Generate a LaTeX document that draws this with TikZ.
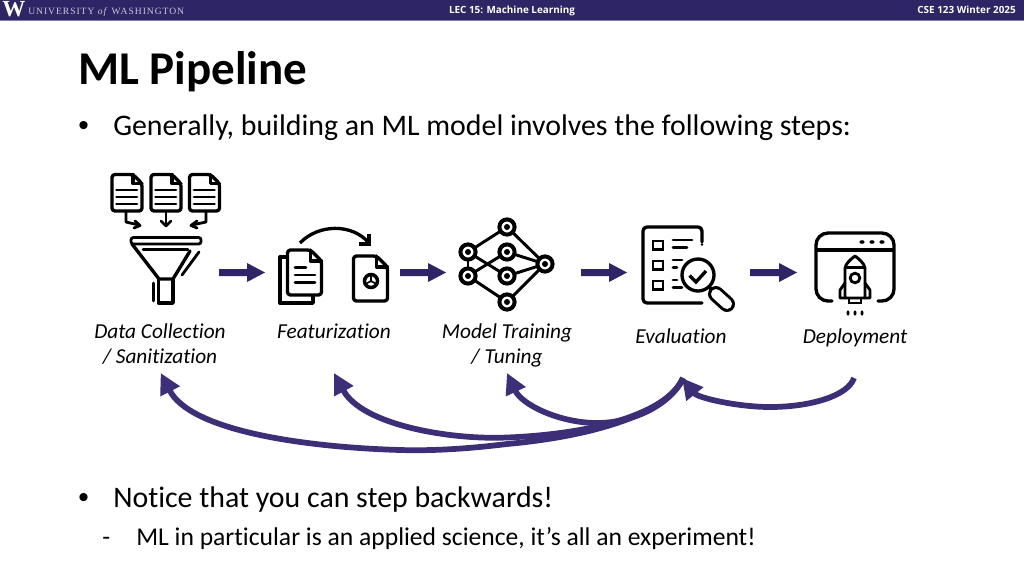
\documentclass[tikz,border=0pt]{standalone}
\usepackage{fontspec}
\usetikzlibrary{arrows.meta}
\setmainfont[Ligatures=NoCommon]{Carlito}
\newfontfamily\uwfont[LetterSpace=10]{Liberation Serif}
\newfontfamily\uwbold{Liberation Serif}
\newfontfamily\hdfont{Open Sans}
\newfontfamily\bulfont{Liberation Sans}
\definecolor{uwbar}{HTML}{2E2566}
\definecolor{uwarrow}{HTML}{2F2468}
\definecolor{uwcurve}{HTML}{3C2F78}
\newcommand\fs[1]{\fontsize{\dimexpr #1pt*3/4\relax}{\dimexpr #1pt*9/10\relax}\selectfont}
\newcommand\docicon[5]{% x0 y0 x1 y1 fold
  \draw[ic,rounded corners=2.2pt] (#1,#2) -- ({#3-#5},#2) -- (#3,{#2+#5}) -- (#3,#4) -- (#1,#4) -- cycle;
  \draw[ic,line join=round] ({#3-#5},#2) -- ({#3-#5},{#2+#5}) -- (#3,{#2+#5});
}
\tikzset{
  ic/.style={draw=black,line width=2.5pt,line join=round,line cap=round},
  icthin/.style={draw=black,line width=2.1pt,line cap=round},
  lab/.style={inner sep=0pt,font=\fs{21.3}\itshape,align=center,text=black,anchor=base},
  txt/.style={inner sep=0pt,anchor=base west,text=black},
  head/.style={inner sep=0pt,anchor=base,font=\hdfont\fs{9.9}\bfseries,text=white},
  bigarrow/.style={fill=uwarrow,draw=none},
  back/.style={draw=uwcurve,line width=4.3pt,-{Triangle[length=15.5pt,width=15.5pt]}},
}
\begin{document}
\begin{tikzpicture}[x=0.75pt,y=-0.75pt]
\useasboundingbox (0,0) rectangle (1024,576);
\fill[white] (0,0) rectangle (1024,576);
\fill[uwbar] (0,0) rectangle (1024,20);
\fill[uwbar!60] (0,20) rectangle (1024,21);
% header
\node[inner sep=0pt,anchor=base west,text=white] (w) at (2,16.5) {\uwbold\fs{23}\bfseries W};
\node[inner sep=0pt,anchor=base west,text=white!75!uwbar] (uw) at (28,14) {\uwfont\fs{9.6}UNIVERSITY \textit{of} WASHINGTON};
\node[head] (lec) at (512,13) {LEC 15: Machine Learning};
\node[head,anchor=base east] (cse) at (1016,13) {CSE 123 Winter 2025};
% text
\node[txt,font=\fs{47}\bfseries] (title) at (78,84) {ML Pipeline};
\node[txt,font=\bulfont\fs{30}] (b1) at (78,135) {•};
\node[txt,font=\fs{29.85}] (t1) at (113,135) {Generally, building an ML model involves the following steps:};
\node[txt,font=\bulfont\fs{30}] (b2) at (78,507) {•};
\node[txt,font=\fs{29.85}] (t2) at (113,507) {Notice that you can step backwards!};
\node[txt,font=\fs{25.6}] (d3) at (102,545) {-};
\node[txt,font=\fs{25.6}] (t3) at (136,545) {ML in particular is an applied science, it’s all an experiment!};
% labels
\node[lab] (l1a) at (160,338) {Data Collection};
\node[lab] (l1b) at (160,363) {/ Sanitization};
\node[lab] (l2) at (334,338) {Featurization};
\node[lab] (l3a) at (507,338) {Model Training};
\node[lab] (l3b) at (507,363) {/ Tuning};
\node[lab] (l4) at (681,343) {Evaluation};
\node[lab] (l5) at (855,343) {Deployment};
% big arrows
\foreach \xa/\xb in {219/265,400/446,581/627,750/797}{
  \fill[bigarrow] (\xa,269) -- (\xb-18,269) -- (\xb-18,263) -- (\xb,272.5) -- (\xb-18,282) -- (\xb-18,276) -- (\xa,276) -- cycle;
}
% icon 1: documents and funnel
\foreach \dx in {0,39,77.5}{
  \docicon{112+\dx}{174.5}{142+\dx}{211}{9}
  \foreach \yy in {190,197,204} \draw[icthin] (116.5+\dx,\yy) -- (137+\dx,\yy);
}
\draw[icthin,line join=round] (126,211) -- (126,222) -- (139,225);
\draw[icthin,line join=round] (135,221) -- (140,225.5) -- (134,228);
\draw[icthin] (166,211) -- (166,226);
\draw[icthin,line join=round] (161,221) -- (166,226) -- (171,221);
\draw[icthin,line join=round] (206,211) -- (206,222) -- (192,225);
\draw[icthin,line join=round] (197,221) -- (191,225.5) -- (197,228);
\draw[icthin,rounded corners=1.8pt] (131,237.5) -- (201,237.5) -- (201,244) -- (131,244) -- cycle;
\draw[ic] (132,244) -- (159,279) -- (173,279) -- (190,251);
\draw[icthin] (143,249.5) -- (188,249.5);
\draw[icthin] (182,275) -- (199,252);
\draw[ic] (158.5,279) -- (158.5,303) -- (173,303) -- (173,279);
\draw[icthin] (153.5,283) -- (153.5,301);
% icon 2: featurization
\draw[ic] (287,257) -- (280,257) -- (280,303) -- (313,303) -- (313,296);
\docicon{287.5}{250}{321.5}{295}{11}
\draw[icthin] (295,267.5) -- (306,267.5);
\draw[icthin] (295,275) -- (315,275);
\draw[icthin] (295,282.5) -- (315,282.5);
\docicon{353.5}{256}{387.5}{301}{11}
\draw[line width=2.6pt] (371,281) circle (6.5);
\fill (371,281) circle (1.5);
\draw[line width=1.2pt] (371,281) -- (371,274.5) (371,281) -- (365.5,284) (371,281) -- (376.5,284);
\coordinate (fa) at (300,243);
\coordinate (fb) at (369,243);
\draw[ic,line cap=butt] (fa) .. controls (318,224) and (352,223) .. (fb);
\draw[ic,line cap=butt,line join=miter] (369,234) -- (369,244) -- (359,244);
% icon 3: network
\foreach \n/\px/\py in {na/507/227,nb/468/252,nc/507/252,nd/468/276,ne/507/276,nf/545/264,ng/507/302}{
  \coordinate (\n) at (\px,\py);
}
\foreach \a/\b in {na/nb,na/nf,nb/ne,nd/nc,nd/ng,nc/nf,ne/nf,ng/nf,nb/nd}{
  \draw[line width=2.2pt] (\a) -- (\b);
}
\foreach \n in {na,nb,nc,nd,ne,nf,ng}{
  \fill[white] (\n) circle (8.5);
  \draw[line width=3pt] (\n) circle (7.6);
  \fill (\n) circle (3);
}
% icon 4: evaluation
\draw[ic,rounded corners=3pt] (702,242) -- (702,227) -- (643,227) -- (643,303) -- (702,303);
\fill (702,244.5) circle (1.4);
\foreach \yy in {241,261,281} \draw[line width=2.2pt] (653,\yy) rectangle (663,\yy+8.5);
\draw[icthin] (673,240) -- (692,240) (673,247.5) -- (687,247.5);
\draw[icthin] (673,260) -- (682,260) (673,267.5) -- (677,267.5);
\draw[icthin] (673,280) -- (677,280) (673,287.5) -- (682,287.5);
\fill[white] (698,275) circle (17);
\draw[line width=2.5pt] (698,275) circle (16);
\draw[ic,line join=miter,line cap=butt] (689.5,275.5) -- (696,282) -- (706,271);
\draw[line width=2.5pt] (709,287) -- (714,292);
\draw[line width=12pt,line cap=round] (716,294) -- (727,304);
\draw[white,line width=7.5pt,line cap=round] (716,294) -- (727,304);
% icon 5: deployment
\draw[ic,rounded corners=9pt] (832,301) -- (816,301) -- (816,233) -- (894,233) -- (894,301) -- (878,301);
\draw[ic,line cap=butt] (816,250) -- (894,250);
\foreach \xx in {862,872,882} \fill (\xx,242) ellipse (2.6 and 1.8);
\draw[ic,line width=2.2pt] (845,298) -- (845,268) .. controls (846,263) and (851,259) .. (855,256) .. controls (859,259) and (864,263) .. (865,268) -- (865,298) -- cycle;
\draw[line width=2.1pt] (846,267.5) -- (864,267.5);
\draw[line width=2.1pt] (855,278) circle (4.8);
\draw[icthin,line join=round] (845,283) -- (840,290) -- (840,298) -- (845,298);
\draw[icthin,line join=round] (865,283) -- (870,290) -- (870,298) -- (865,298);
\draw[line width=2.1pt] (849,298) rectangle (861,303);
\foreach \xx in {848,855,862} \fill (\xx,313) ellipse (1.5 and 2.6);
% curves
\coordinate (from) at (683,378);
\coordinate (dep) at (854,378);
\coordinate (to1) at (160.7,373);
\coordinate (to2) at (334,373);
\coordinate (to3) at (507,373);
\coordinate (to4) at (682,378);
\draw[back] (from) .. controls (668,413) and (595,436) .. (507,444) .. controls (470,448.5) and (435,451) .. (400,450) .. controls (300,447) and (190,430) .. (to1);
\draw[back] (from) .. controls (668,413) and (595,434) .. (507,437.5) .. controls (450,440) and (362,425) .. (to2);
\draw[back] (from) .. controls (672,403) and (635,423) .. (597,423) .. controls (560,423) and (522,405) .. (to3);
\draw[back] (dep) .. controls (848,396) and (810,407) .. (770,407) .. controls (738,407) and (698,398) .. (to4);
\end{tikzpicture}
\end{document}
